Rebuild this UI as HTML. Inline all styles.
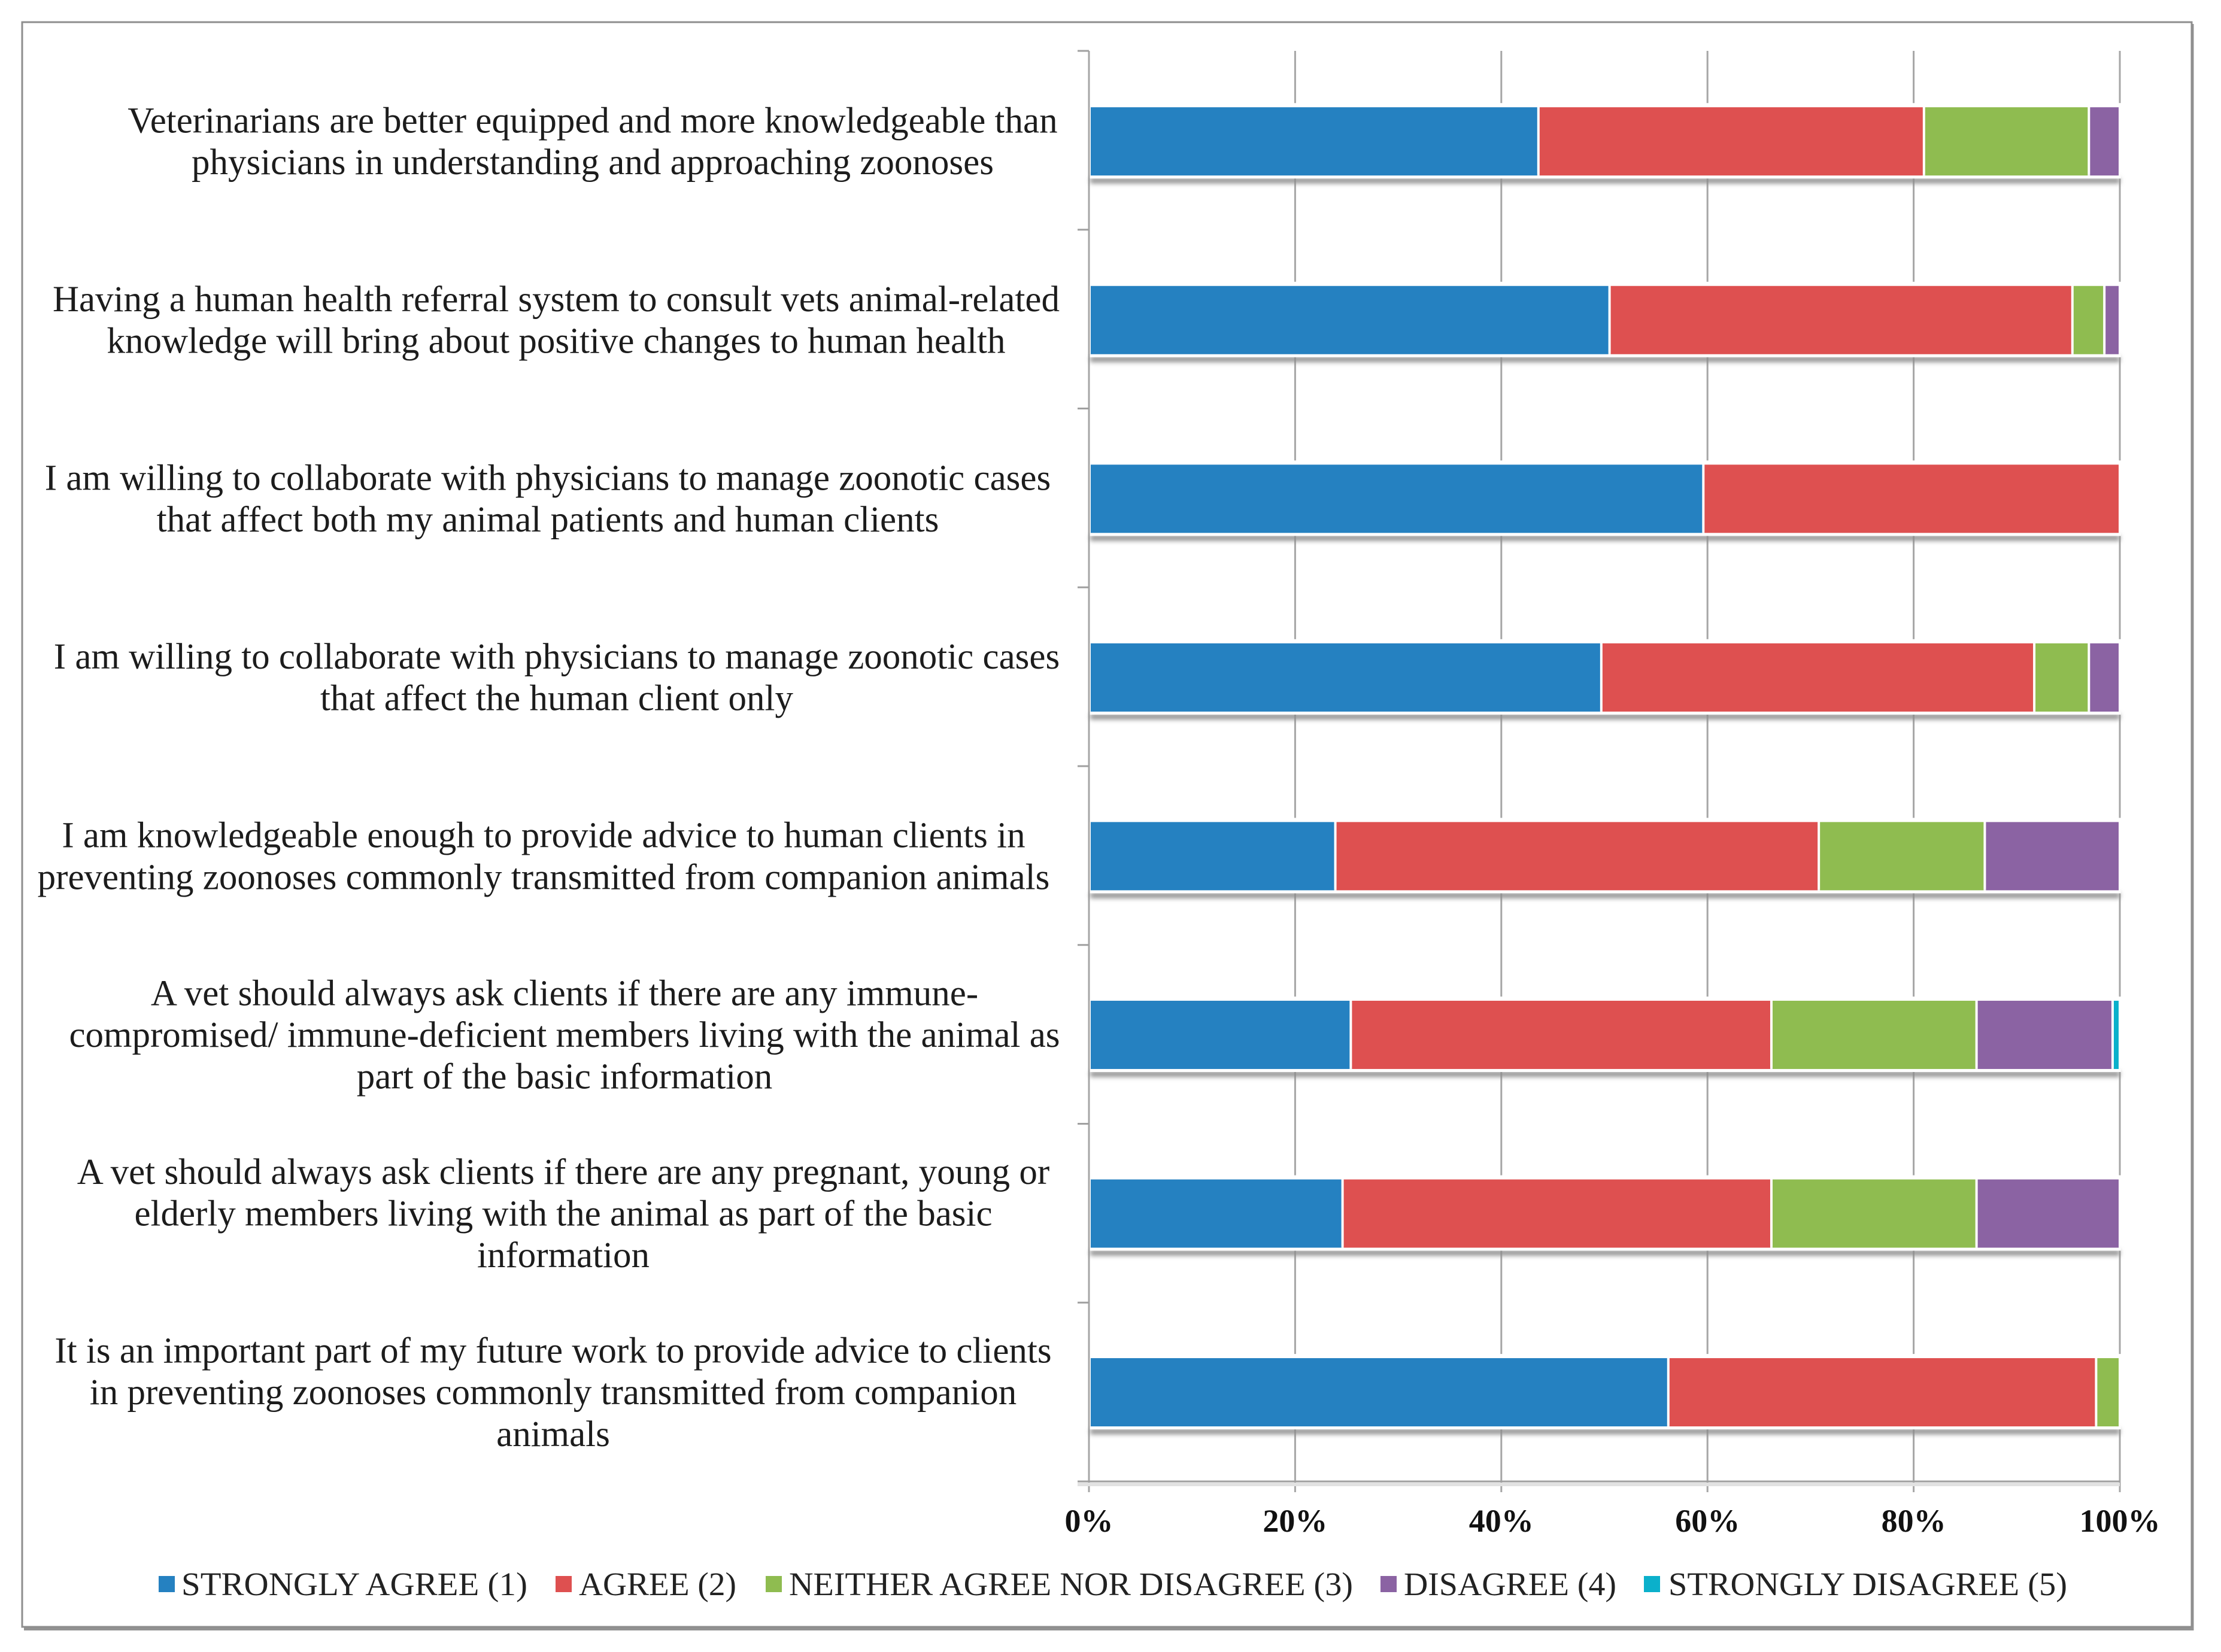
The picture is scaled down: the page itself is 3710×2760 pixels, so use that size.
<!DOCTYPE html>
<html lang="en">
<head>
<meta charset="utf-8">
<title>Stacked bar chart of attitudes towards zoonoses</title>
<style>
  html, body { margin: 0; padding: 0; background: #ffffff; }
  svg { display: block; font-family: "Liberation Serif", serif; }
</style>
</head>
<body>
<svg id="chart" xmlns="http://www.w3.org/2000/svg" width="3710" height="2760" viewBox="0 0 3710 2760">
  <defs>
    <filter id="blur" x="-5%" y="-200%" width="110%" height="500%"><feGaussianBlur stdDeviation="4 4"/></filter>
  </defs>
  <rect x="0" y="0" width="3710" height="2760" fill="#ffffff"/>
  <rect x="40" y="40" width="3624.5" height="2684" fill="#929292"/>
  <rect x="37" y="37" width="3624" height="2681" fill="#ffffff" stroke="#8e8e8e" stroke-width="3"/>
  <g id="plot"></g>
  <g id="legend" font-size="55" fill="#222222">
    <rect x="265" y="2633" width="27" height="27" fill="#2581c1"/>
    <text x="303" y="2665" textLength="578" lengthAdjust="spacingAndGlyphs">STRONGLY AGREE (1)</text>
    <rect x="928" y="2633" width="27" height="27" fill="#de5050"/>
    <text x="967" y="2665" textLength="263" lengthAdjust="spacingAndGlyphs">AGREE (2)</text>
    <rect x="1279" y="2633" width="27" height="27" fill="#8fbc50"/>
    <text x="1318" y="2665" textLength="942" lengthAdjust="spacingAndGlyphs">NEITHER AGREE NOR DISAGREE (3)</text>
    <rect x="2306" y="2633" width="27" height="27" fill="#8b63a3"/>
    <text x="2345" y="2665" textLength="355" lengthAdjust="spacingAndGlyphs">DISAGREE (4)</text>
    <rect x="2746" y="2633" width="27" height="27" fill="#0bb0cb"/>
    <text x="2787" y="2665" textLength="666" lengthAdjust="spacingAndGlyphs">STRONGLY DISAGREE (5)</text>
  </g>
</svg>
<script>
// ---- chart data (top to bottom) ----
var categoryLines = [
  ["Veterinarians are better equipped and more knowledgeable than", "physicians in understanding and approaching zoonoses"],
  ["Having a human health referral system to consult vets animal-related", "knowledge will bring about positive changes to human health"],
  ["I am willing to collaborate with physicians to manage zoonotic cases", "that affect both my animal patients and human clients"],
  ["I am willing to collaborate with physicians to manage zoonotic cases", "that affect the human client only"],
  ["I am knowledgeable enough to provide advice to human clients in", "preventing zoonoses commonly transmitted from companion animals"],
  ["A vet should always ask clients if there are any immune-", "compromised/ immune-deficient members living with the animal as", "part of the basic information"],
  ["A vet should always ask clients if there are any pregnant, young or", "elderly members living with the animal as part of the basic", "information"],
  ["It is an important part of my future work to provide advice to clients", "in preventing zoonoses commonly transmitted from companion", "animals"]
];
var stronglyAgree    = [43.6, 50.5, 59.6, 49.7, 23.9, 25.4, 24.6, 56.2];
var agree            = [37.4, 44.9, 40.4, 42.0, 46.9, 40.8, 41.6, 41.5];
var neither          = [16.0,  3.1,  0.0,  5.3, 16.1, 19.9, 19.9,  2.3];
var disagree         = [ 3.0,  1.5,  0.0,  3.0, 13.1, 13.2, 13.9,  0.0];
var stronglyDisagree = [ 0.0,  0.0,  0.0,  0.0,  0.0,  0.7,  0.0,  0.0];
var tickValues = [0, 20, 40, 60, 80, 100];
var tickLabels = ["0%", "20%", "40%", "60%", "80%", "100%"];

var seriesList = [stronglyAgree, agree, neither, disagree, stronglyDisagree];
var seriesKeys = ["strongly-agree", "agree", "neither", "disagree", "strongly-disagree"];
var seriesColors = ["#2581c1", "#de5050", "#8fbc50", "#8b63a3", "#0bb0cb"];

// ---- layout and axis functions ----
var plotLeft = 1819, plotRight = 3541, plotTop = 85, plotBottom = 2475;
function xScale(v) { return plotLeft + (v / 100) * (plotRight - plotLeft); }
function bandHeight() { return (plotBottom - plotTop) / categoryLines.length; }
function bandTop(i) { return plotTop + i * bandHeight(); }
function barCenter(i) { return plotTop + 151.2 + i * (bandHeight() - 0.2); }
var barHeight = 114;

var plot = document.getElementById('plot');
var NS = 'http://www.w3.org/2000/svg';
function make(tag, props) {
  var n = document.createElementNS(NS, tag);
  for (var k in props) { n.setAttribute(k, props[k]); }
  plot.appendChild(n);
  return n;
}

// vertical gridlines + bottom stubs
tickValues.forEach(function (v, t) {
  var el = make('line', { x1: xScale(v), x2: xScale(v), y1: plotTop, y2: 2493, stroke: '#a6a6a6', 'stroke-width': 3 });
  
  
});

// category ticks
for (var c = 0; c <= categoryLines.length; c++) {
  var tk = make('line', { x1: 1800, x2: c === categoryLines.length ? plotRight : plotLeft, y1: bandTop(c), y2: bandTop(c), stroke: '#a0a0a0', 'stroke-width': 3 });
  
  
}
var axisShadow = make('rect', { x: 1800, y: bandTop(categoryLines.length) + 2, width: plotRight - 1800, height: 6, fill: '#e2e2e2' });



// bars
categoryLines.forEach(function (lines, i) {
  var top = barCenter(i) - barHeight / 2;
  var halo = make('rect', { x: plotLeft + 1.5, y: top - 7, width: plotRight - plotLeft, height: barHeight + 12, fill: '#ffffff' });
  
  
  var shadow = make('rect', { x: plotLeft + 2, y: top + barHeight + 4, width: plotRight - plotLeft - 2, height: 9, fill: '#8c8c8c', filter: 'url(#blur)' });
  
  
  var band = make('rect', { x: plotLeft + 1.5, y: top + barHeight, width: plotRight - plotLeft, height: 5, fill: '#ffffff' });
  
  
  var cum = 0;
  seriesList.forEach(function (values, s) {
    var v = values[i];
    if (v > 0) {
      var x0 = xScale(cum) + (cum === 0 ? 3 : 2);
      var x1 = xScale(cum + v) - 2;
      var seg = make('rect', { x: x0, y: top, width: Math.max(x1 - x0, 1), height: barHeight, fill: seriesColors[s] });
      
      
    }
    cum += v;
  });
});

// category labels (each block centred over its longest line)
var labelCenters = [990, 929, 915, 930, 908, 943, 941, 924];
categoryLines.forEach(function (lines, i) {
  lines.forEach(function (line, l) {
    var y = barCenter(i) + 20 + (l - (lines.length - 1) / 2) * 69.7;
    var tx = make('text', { x: labelCenters[i], y: y, 'text-anchor': 'middle', 'font-size': 61, fill: '#1c1c1c' });
    tx.textContent = line;
    
    
  });
});

// x tick labels
tickValues.forEach(function (v, t) {
  var tl = make('text', { x: xScale(v), y: 2559, 'text-anchor': 'middle', 'font-size': 54, 'font-weight': 'bold', fill: '#111111' });
  tl.textContent = tickLabels[t];
  
  
});
</script>
</body>
</html>
